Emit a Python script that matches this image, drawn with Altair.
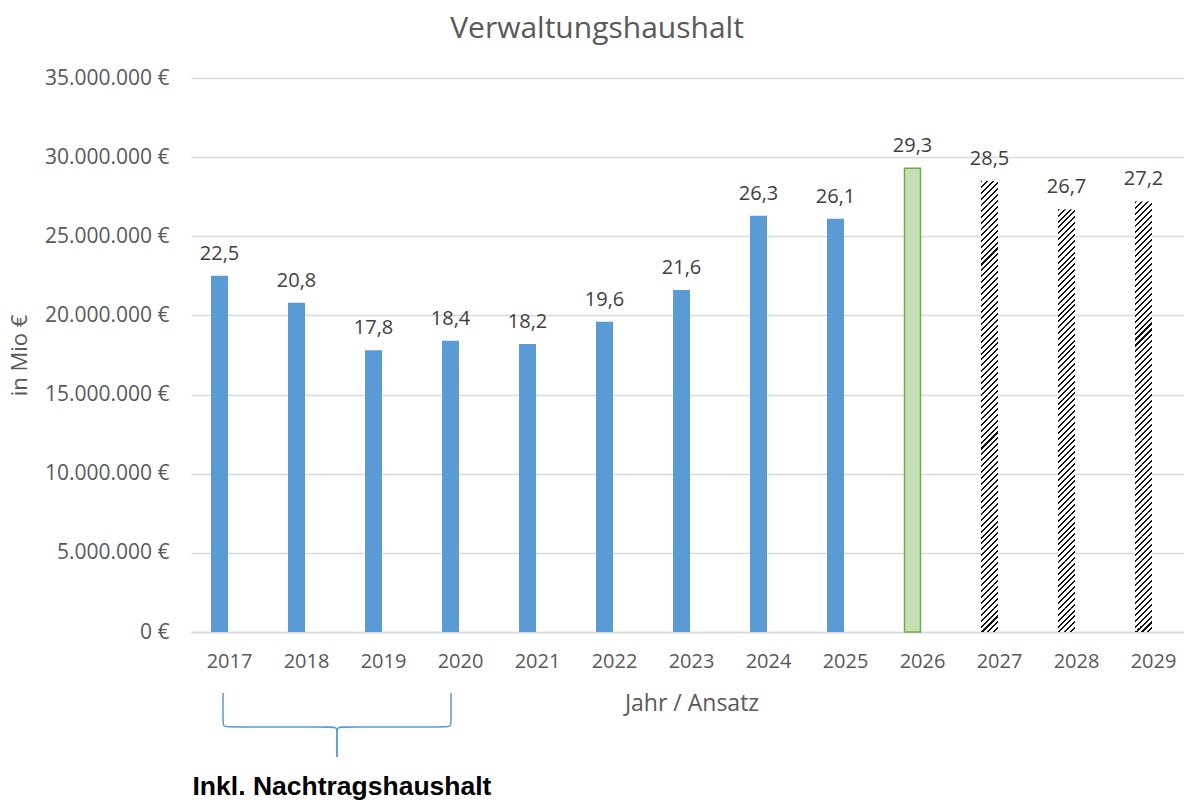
import altair as alt
import pandas as pd

# ---------------- data ----------------
years = ["2017", "2018", "2019", "2020", "2021", "2022", "2023",
         "2024", "2025", "2026", "2027", "2028", "2029"]
values_mio = [22.5, 20.8, 17.8, 18.4, 18.2, 19.6, 21.6, 26.3, 26.1, 29.3, 28.5, 26.7, 27.2]
kinds = ["Ist"] * 9 + ["Ansatz"] + ["Planung"] * 3
y_ticks = [0, 5e6, 10e6, 15e6, 20e6, 25e6, 30e6, 35e6]

# brace annotation (x in category-index units, y in Mio EUR below the axis)
brace_x = [0.416, 0.416, 0.416, 0.49, 1.82, 1.896, 1.896, 1.896,
           3.377, 3.377, 3.377, 3.30, 1.97, 1.896, 1.896, 1.896]
brace_y_mio = [-3.85, -5.56, -6.0, -6.0, -6.0, -6.0, -6.44, -7.9,
               -3.85, -5.56, -6.0, -6.0, -6.0, -6.0, -6.44, -7.9]
brace_side = ["l"] * 8 + ["r"] * 8
brace_order = list(range(8)) + list(range(8))
note_text = ["Inkl. Nachtragshaushalt"]

# ---------------- frames ----------------
df = pd.DataFrame({
    "year": years,
    "value": [v * 1e6 for v in values_mio],
    "v": values_mio,
    "kind": kinds,
})
brace_df = pd.DataFrame({
    "bx": brace_x,
    "by": [v * 1e6 for v in brace_y_mio],
    "side": brace_side,
    "ord": brace_order,
})
note_df = pd.DataFrame({"t": note_text})

W, H = 993, 554
XRANGE = [0, 1001]
YMAX = 35e6
TXT = "#595959"
FONT = "Open Sans"
BAR_W = 17
BAR_OFF = -10

x_scale = alt.Scale(domain=years, paddingInner=0, paddingOuter=0, range=XRANGE)
y_scale = alt.Scale(domain=[0, YMAX], nice=False)
x_axis = alt.Axis(title="Jahr / Ansatz", labelAngle=0, ticks=False,
                  domain=True, domainColor="#D9D9D9", domainWidth=1.5,
                  labelFont=FONT, labelFontSize=20, labelColor=TXT,
                  labelPadding=19, titleFont=FONT, titleFontSize=23,
                  titleFontWeight="normal", titleColor=TXT, titlePadding=21)
y_axis = alt.Axis(values=y_ticks, title="in Mio €", ticks=False, domain=False,
                  grid=True, gridColor="#D9D9D9", gridWidth=1.5,
                  labelExpr="datum.value == 0 ? '0 €' : format(datum.value / 1000000, 'd') + '.000.000 €'",
                  labelFont=FONT, labelFontSize=21, labelColor=TXT, labelPadding=22,
                  titleFont=FONT, titleFontSize=22, titleFontWeight="normal",
                  titleColor=TXT, titlePadding=13)

x_enc = alt.X("year:N", sort=years, scale=x_scale, axis=x_axis)
y_enc = alt.Y("value:Q", scale=y_scale, axis=y_axis)

base = alt.Chart(df).encode(x=x_enc, y=y_enc)

ist = base.transform_filter("datum.kind == 'Ist'").mark_bar(
    width=BAR_W, xOffset=BAR_OFF, color="#5B9BD5")
ansatz = base.transform_filter("datum.kind == 'Ansatz'").mark_bar(
    width=BAR_W - 1, xOffset=BAR_OFF, fill="#C5E0B4", stroke="#70AD47", strokeWidth=1.5)

# hatched bars ("wide upward diagonal"): each bar is split into equal
# segments, each filled with a striped linear gradient
hatch_layers = []
period_target, black_frac = 6.0, 0.34
for yr, v, kd in zip(years, values_mio, kinds):
    if kd != "Planung":
        continue
    hp = v * 1e6 / YMAX * H
    m = max(1, round(hp / 24.0))
    hseg = hp / m
    k = max(1, round(hseg / period_target))
    p = hseg / k
    span = BAR_W + hseg
    r = BAR_W / hseg
    b = (1 + r) / (1 + r * r)
    a = r * b
    stops = []
    j = 0
    while j * p < span:
        s0 = j * p / span
        s1 = min((j * p + black_frac * p) / span, 1.0)
        s2 = min((j + 1) * p / span, 1.0)
        stops += [{"offset": s0, "color": "#111111"},
                  {"offset": s1, "color": "#111111"},
                  {"offset": s1, "color": "#ffffff"},
                  {"offset": s2, "color": "#ffffff"}]
        j += 1
    grad = alt.LinearGradient(gradient="linear", stops=stops, x1=0, y1=0, x2=a, y2=b)
    layer = alt.Chart(df).transform_filter(
        f"datum.year == '{yr}'"
    ).transform_calculate(
        seg=f"sequence(0, {m})"
    ).transform_flatten(["seg"]).transform_calculate(
        y0=f"datum.value * datum.seg / {m}",
        y1=f"datum.value * (datum.seg + 1) / {m}",
    ).mark_bar(width=BAR_W, xOffset=BAR_OFF, fill=grad, strokeWidth=0).encode(
        x=x_enc,
        y=alt.Y("y0:Q", scale=y_scale, axis=y_axis),
        y2="y1:Q",
    )
    hatch_layers.append(layer)

labels = base.transform_calculate(
    lbl="replace(format(datum.v, '.1f'), '.', ',')"
).mark_text(dx=BAR_OFF, dy=-16, baseline="alphabetic", font=FONT,
            fontSize=20, color="#404040").encode(text="lbl:N")

main = alt.layer(ist, ansatz, *hatch_layers, labels)

brace = alt.Chart(brace_df).mark_line(
    interpolate="basis", color="#5B9BD5", strokeWidth=1.5
).encode(
    x=alt.X("bx:Q", scale=alt.Scale(domain=[0, 13], nice=False, zero=False, range=XRANGE), axis=None),
    y=alt.Y("by:Q", scale=alt.Scale(domain=[0, YMAX], nice=False, zero=False), axis=None),
    detail="side:N",
    order="ord:Q",
)

note = alt.Chart(note_df).mark_text(
    align="left", baseline="alphabetic", font="Liberation Sans",
    fontSize=26.5, fontWeight="bold", color="#000000"
).encode(x=alt.value(1.5), y=alt.value(717), text="t:N")

chart = alt.layer(main, brace, note).resolve_scale(
    x="independent", y="independent"
).properties(
    width=W, height=H,
    background="white",
    autosize=alt.AutoSizeParams(type="none"),
    padding={"left": 183, "top": 70, "right": 0, "bottom": 170},
    title=alt.TitleParams("Verwaltungshaushalt", font=FONT, fontSize=30,
                          fontWeight="normal", color=TXT, anchor="middle",
                          frame="group", dx=-90.5, baseline="alphabetic", offset=-1),
).configure_view(stroke=None)

chart.save("out.html", embed_options={"renderer": "svg", "actions": False})
